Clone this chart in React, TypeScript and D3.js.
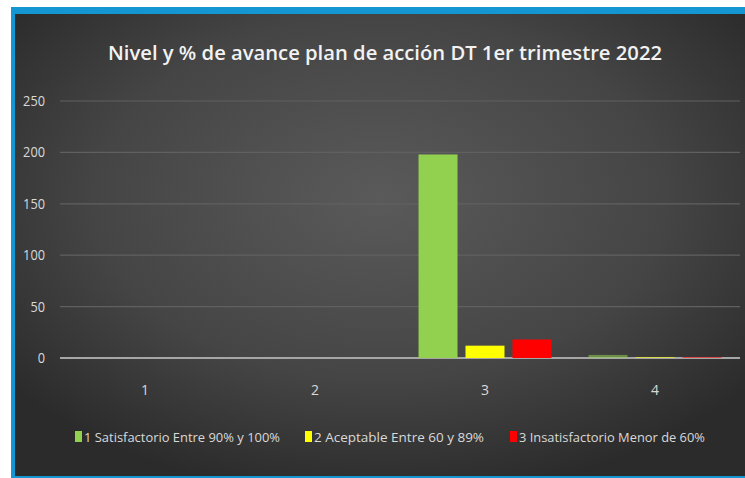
import React from "react";
import * as d3 from "d3";

const categories = ["1", "2", "3", "4"];
const seriesNames = [
  "1 Satisfactorio Entre 90% y 100%",
  "2 Aceptable Entre 60 y 89%",
  "3 Insatisfactorio Menor de 60%",
];
const seriesColors = ["#92d050", "#ffff00", "#ff0000"];
const satisfactorio = [0, 0, 198, 3];
const aceptable = [0, 0, 12, 1];
const insatisfactorio = [0, 0, 18, 1];
const yTicks = [0, 50, 100, 150, 200, 250];
const title = "Nivel y % de avance plan de acción DT 1er trimestre 2022";

const W = 745;
const H = 478;
const plotLeft = 60;
const plotRight = 740;
const plotTop = 101;
const plotBottom = 358;

export default function App() {
  const seriesValues = [satisfactorio, aceptable, insatisfactorio];
  const x0 = d3
    .scaleBand<string>()
    .domain(categories)
    .range([plotLeft, plotRight])
    .paddingInner(0.218)
    .paddingOuter(0.109);
  const x1 = d3
    .scaleBand<number>()
    .domain([0, 1, 2])
    .range([0, x0.bandwidth()])
    .paddingInner(0.17)
    .paddingOuter(0);
  const y = d3.scaleLinear().domain([0, 250]).range([plotBottom, plotTop]);

  const legendX = [75, 305, 510];
  const legendLen = [196, 170, 186];
  const legendY = 441;

  return (
    <svg
      width={W}
      height={H}
      style={{ position: "absolute", left: 0, top: 0, display: "block" }}
    >
      <defs>
        <radialGradient id="bg" cx="50%" cy="40%" r="65%">
          <stop offset="0%" stopColor="#5a5a5a" />
          <stop offset="60%" stopColor="#454545" />
          <stop offset="100%" stopColor="#2b2b2b" />
        </radialGradient>
      </defs>
      <rect x={0} y={0} width={W} height={H} fill="#ffffff" />
      <rect x={11} y={7} width={W - 11} height={H - 7} fill="#1496d2" />
      <rect x={15} y={14} width={W - 15} height={476 - 14} fill="url(#bg)" />

      <text
        x={385}
        y={60}
        textAnchor="middle"
        fill="#f2f2f2"
        fontFamily="'Open Sans', sans-serif"
        fontWeight={600}
        fontSize={20}
        textLength={554}
        lengthAdjust="spacingAndGlyphs"
      >
        {title}
      </text>

      {yTicks.map((t) => (
        <g key={t}>
          <line
            x1={plotLeft}
            x2={plotRight}
            y1={y(t)}
            y2={y(t)}
            stroke={t === 0 ? "#a6a6a6" : "#606060"}
            strokeWidth={t === 0 ? 2 : 1.2}
          />
          <text
            x={45}
            y={y(t) + 5}
            textAnchor="end"
            fill="#d9d9d9"
            fontFamily="'Open Sans', sans-serif"
            fontSize={14}
            textLength={String(t).length * 7.3}
            lengthAdjust="spacingAndGlyphs"
          >
            {t}
          </text>
        </g>
      ))}

      {categories.map((c, ci) => (
        <g key={c} transform={`translate(${x0(c)},0)`}>
          {seriesValues.map((vals, si) => {
            const v = vals[ci];
            if (v <= 0) return null;
            return (
              <rect
                key={si}
                x={x1(si)}
                y={y(v)}
                width={x1.bandwidth()}
                height={plotBottom - y(v)}
                fill={seriesColors[si]}
                opacity={ci === 3 ? 0.55 : 1}
              />
            );
          })}
          <text
            x={x0.bandwidth() / 2}
            y={395}
            textAnchor="middle"
            fill="#d9d9d9"
            fontFamily="'Open Sans', sans-serif"
            fontSize={14}
          >
            {c}
          </text>
        </g>
      ))}

      {seriesNames.map((name, i) => (
        <g key={name}>
          <rect
            x={legendX[i]}
            y={legendY - 10}
            width={7}
            height={11}
            fill={seriesColors[i]}
          />
          <text
            x={legendX[i] + 9}
            y={legendY + 1}
            fill="#d9d9d9"
            fontFamily="'Open Sans', sans-serif"
            fontSize={13.5}
            textLength={legendLen[i]}
            lengthAdjust="spacingAndGlyphs"
          >
            {name}
          </text>
        </g>
      ))}
    </svg>
  );
}
